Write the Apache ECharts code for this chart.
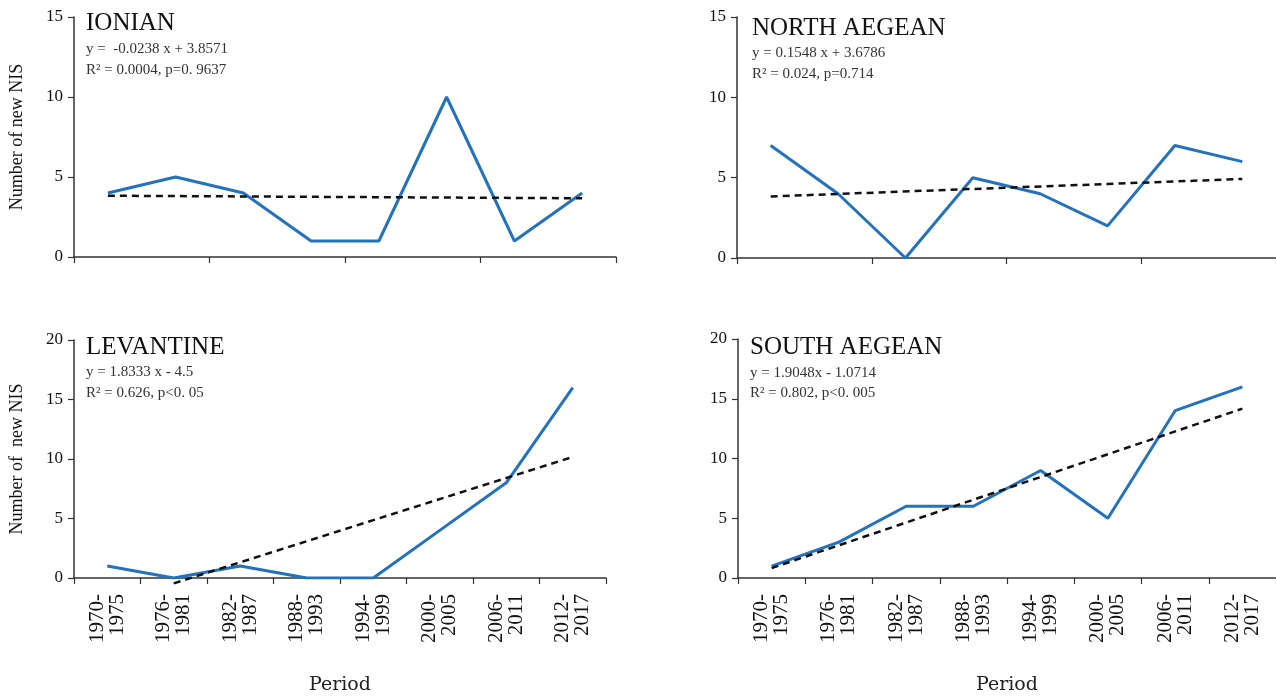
<!DOCTYPE html>
<html><head><meta charset="utf-8">
<script src="https://cdn.jsdelivr.net/npm/echarts@6/dist/echarts.min.js"></script>
<style>html,body{margin:0;padding:0;background:#fff}#c{width:1276px;height:696px}</style>
</head><body><div id="c"></div>
<script>
const periods = ['1970-1975','1976-1981','1982-1987','1988-1993','1994-1999','2000-2005','2006-2011','2012-2017'];
const ionian = [4,5,4,1,1,10,1,4];
const northAegean = [7,4,0,5,4,2,7,6];
const levantine = [1,0,1,0,0,4,8,16];
const southAegean = [1,3,6,6,9,5,14,16];
// trend line endpoints [category, value]
const ionianTrend = [['1970-1975',3.83],['2012-2017',3.67]];
const northTrend = [['1970-1975',3.83],['2012-2017',4.92]];
const levantineTrend = [['1976-1981',-0.45],['2012-2017',10.17]];
const southTrend = [['1970-1975',0.83],['2012-2017',14.17]];
const panelTitles = ['IONIAN','NORTH AEGEAN','LEVANTINE','SOUTH AEGEAN'];
const equations = ['y =  -0.0238 x + 3.8571','y = 0.1548 x + 3.6786','y = 1.8333 x - 4.5','y = 1.9048x - 1.0714'];
const stats = ['R² = 0.0004, p=0. 9637','R² = 0.024, p=0.714','R² = 0.626, p<0. 05','R² = 0.802, p<0. 005'];
const yName = 'Number of new NIS';
const yNameLev = 'Number of  new NIS';
const xName = 'Period';

const chart = echarts.init(document.getElementById('c'));
const axisColor = '#333';
const serif = 'Liberation Serif';
const grids = [
  {left:74, right:660, top:17, bottom:439},
  {left:737, right:-2, top:17, bottom:438},
  {left:74, right:670, top:340, bottom:117},
  {left:738, right:-2, top:339, bottom:117}
];
function xAxis(i, labels){
  return {
    type:'category', gridIndex:i, data:periods, boundaryGap:true,
    axisLine:{lineStyle:{color:axisColor,width:1.5}},
    axisTick:{show:true,length:6,lineStyle:{color:axisColor,width:1.2}},
    axisLabel: labels ? {show:true, rotate:90, margin:16, fontFamily:serif, fontSize:21, lineHeight:20, color:'#111',
      formatter:v=>v.replace('-', '-\n')} : {show:false},
    name: labels ? xName : '', nameLocation:'middle', nameGap:98,
    nameTextStyle:{fontFamily:'DejaVu Serif', fontSize:19, color:'#222', verticalAlign:'top'}
  };
}
function yAxis(i, max, name){
  return {
    type:'value', gridIndex:i, min:0, max:max, interval:5,
    axisLine:{show:true, lineStyle:{color:axisColor,width:1.5}},
    axisTick:{show:true,length:6,lineStyle:{color:axisColor,width:1.2}},
    splitLine:{show:false},
    axisLabel:{fontFamily:serif, fontSize:17, color:'#111', margin:11},
    name:name||'', nameLocation:'middle', nameGap:48, nameRotate:90,
    nameTextStyle:{fontFamily:serif, fontSize:18, color:'#111'}
  };
}
function dataSeries(i, d){
  return {type:'line', xAxisIndex:i, yAxisIndex:i, data:d, symbol:'none', lineStyle:{color:'#2272bd', width:3}, z:3};
}
function trendSeries(i, d){
  return {type:'line', xAxisIndex:i, yAxisIndex:i, data:d, symbol:'none', clip:false,
    lineStyle:{color:'#111', width:2.5, type:[7,5]}, z:4};
}
const textPos = [
  {x:86, t:23, e:49, r:70},
  {x:752, t:28, e:53, r:74},
  {x:86, t:347, e:372, r:393},
  {x:750, t:347, e:373, r:393}
];
const graphics = [];
textPos.forEach((p,i)=>{
  graphics.push({type:'text', x:p.x, y:p.t, style:{text:panelTitles[i], font:'25px "Liberation Serif"', fill:'#111', verticalAlign:'middle'}});
  graphics.push({type:'text', x:p.x, y:p.e, style:{text:equations[i], font:'15px "Liberation Serif"', fill:'#333', verticalAlign:'middle'}});
  graphics.push({type:'text', x:p.x, y:p.r, style:{text:stats[i], font:'15px "Liberation Serif"', fill:'#333', verticalAlign:'middle'}});
});
chart.setOption({
  animation:false,
  backgroundColor:'#fff',
  grid:grids,
  xAxis:[xAxis(0,false), xAxis(1,false), xAxis(2,true), xAxis(3,true)],
  yAxis:[yAxis(0,15,yName), yAxis(1,15), yAxis(2,20,yNameLev), yAxis(3,20)],
  series:[
    dataSeries(0, ionian), trendSeries(0, ionianTrend),
    dataSeries(1, northAegean), trendSeries(1, northTrend),
    dataSeries(2, levantine), trendSeries(2, levantineTrend),
    dataSeries(3, southAegean), trendSeries(3, southTrend)
  ],
  graphic:graphics
});
</script></body></html>
